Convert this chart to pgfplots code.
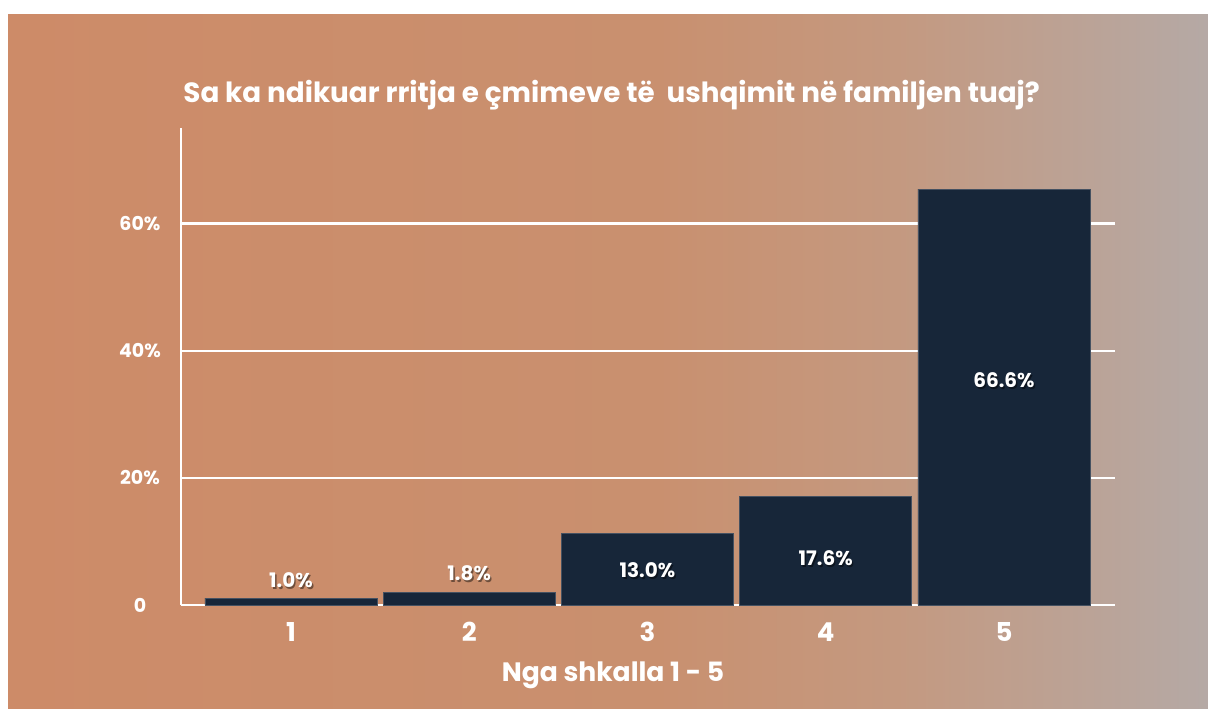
\documentclass[border=0pt]{standalone}
\usepackage{pgfplots}
\pgfplotsset{compat=1.18}
\usepackage{fontspec}
\setmainfont{Poppins}
\definecolor{bg1}{RGB}{205,139,104}
\definecolor{bg2}{RGB}{201,144,111}
\definecolor{bg3}{RGB}{196,153,128}
\definecolor{bg4}{RGB}{181,169,165}
\definecolor{barc}{RGB}{23,38,57}
\pgfdeclarehorizontalshading{bgshade}{100bp}{color(0bp)=(bg1); color(25bp)=(bg1); color(52bp)=(bg2); color(62bp)=(bg3); color(75bp)=(bg4); color(100bp)=(bg4)}
\begin{document}
\begin{tikzpicture}
\fill[white] (0,0) rectangle (604pt,354pt);
\shade[shading=bgshade] (4pt,0) rectangle (604pt,346.5pt);
\node[anchor=west, text=white, font=\fontsize{13.9}{16}\selectfont\bfseries, inner sep=0pt] at (91.5pt,306.5pt) {Sa ka ndikuar rritja e çmimeve të\ \ ushqimit në familjen tuaj?};
\begin{axis}[
  at={(90.5pt,51.5pt)}, anchor=south west,
  scale only axis, width=467pt, height=238.5pt,
  xmin=0.383, xmax=5.623, ymin=0, ymax=75,
  axis x line=bottom, axis y line=left,
  axis line style={white, line width=1.1pt, -},
  ymajorgrids, grid style={white, line width=1.1pt},
  ytick={0,20,40,60}, yticklabels={0,20\%,40\%,60\%},
  xtick={1,2,3,4,5},
  major tick length=0pt,
  yticklabel style={anchor=center, xshift=-20.5pt, text=white, font=\fontsize{9.5}{11}\selectfont\bfseries},
  xticklabel style={anchor=center, yshift=-13.5pt, text=white, font=\fontsize{13}{15}\selectfont\bfseries},
  xlabel={Nga shkalla 1 - 5},
  xlabel style={at={(axis description cs:0.4625,0)}, anchor=center, yshift=-35pt, text=white, font=\fontsize{13.3}{15}\selectfont\bfseries},
  /pgf/number format/assume math mode=true,
  clip=false,
]
\addplot[ybar, bar width=86pt, fill=barc, draw=barc!80!white, line width=0.3pt, bar shift=0pt]
  coordinates {(1,1.1) (2,2.0) (3,11.3) (4,17.1) (5,65.4)};
\addplot[only marks, mark=none, nodes near coords, point meta=explicit symbolic,
  nodes near coords align={center},
  every node near coord/.append style={text=black, opacity=0.45, font=\fontsize{10}{12}\selectfont\bfseries, xshift=0.7pt, yshift=-1pt}]
  table[meta=lab] {
x y lab
1 3.9 1.0\%
2 5.0 1.8\%
3 5.5 13.0\%
4 7.4 17.6\%
5 35.3 66.6\%
};
\addplot[only marks, mark=none, nodes near coords, point meta=explicit symbolic,
  nodes near coords align={center},
  every node near coord/.append style={text=white, font=\fontsize{10}{12}\selectfont\bfseries}]
  table[meta=lab] {
x y lab
1 3.9 1.0\%
2 5.0 1.8\%
3 5.5 13.0\%
4 7.4 17.6\%
5 35.3 66.6\%
};
\end{axis}
\end{tikzpicture}
\end{document}
